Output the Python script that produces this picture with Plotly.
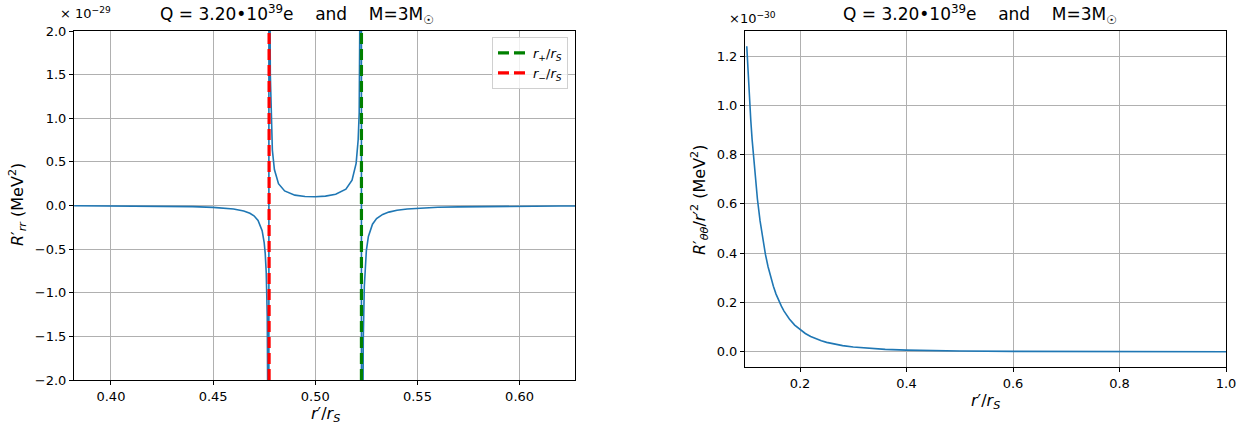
import plotly.graph_objects as go

# ---------------- data ----------------
# left panel: R'_rr in units of 1e-29 MeV^2 versus r'/r_S
r_minus = 0.4774
r_plus = 0.5226

r_left = [0.382, 0.39, 0.40, 0.41, 0.42, 0.43, 0.44, 0.45, 0.455, 0.46,
          0.465, 0.468, 0.47, 0.472, 0.474, 0.475, 0.4755, 0.476, 0.4765, 0.477,
          0.47725, 0.47735,
          0.4776, 0.478, 0.4785, 0.479, 0.480, 0.482, 0.485, 0.49, 0.495, 0.50,
          0.505, 0.51, 0.515, 0.518, 0.520, 0.521, 0.5215, 0.522, 0.5224,
          0.52255, 0.52265,
          0.523, 0.5235, 0.524, 0.525, 0.526, 0.528, 0.53, 0.533, 0.536, 0.54,
          0.545, 0.55, 0.56, 0.57, 0.58, 0.59, 0.60, 0.61, 0.62, 0.628]
R_rr = [-0.0022, -0.0027, -0.0035, -0.0046, -0.0062, -0.0087, -0.0129, -0.021, -0.028, -0.040,
        -0.063, -0.089, -0.118, -0.171, -0.288, -0.424, -0.548, -0.769, -1.27, -3.42,
        -20.0, 20.0,
        3.47, 1.50, 0.889, 0.636, 0.412, 0.250, 0.167, 0.119, 0.103, 0.100,
        0.107, 0.129, 0.188, 0.289, 0.483, 0.753, 1.056, 1.794, 4.15,
        20.0, -20.0,
        -4.11, -1.53, -0.932, -0.518, -0.355, -0.214, -0.150, -0.102, -0.0758, -0.0554,
        -0.0405, -0.0314, -0.0209, -0.0153, -0.0118, -0.0095, -0.0078, -0.0066, -0.0057, -0.0051]

# right panel: R'_thth / r'^2 in units of 1e-30 MeV^2 versus r'/r_S
r_right = [0.10, 0.1025, 0.105, 0.1075, 0.11, 0.115, 0.12, 0.125, 0.13, 0.135, 0.14,
           0.145, 0.15, 0.155, 0.16, 0.165, 0.17, 0.175, 0.18, 0.19, 0.20, 0.21,
           0.22, 0.23, 0.24, 0.25, 0.26, 0.28, 0.30, 0.32, 0.34, 0.36, 0.40,
           0.45, 0.50, 0.60, 0.70, 0.80, 0.90, 1.00]
R_thth = [1.24, 1.129, 1.030, 0.942, 0.863, 0.729, 0.620, 0.531, 0.458, 0.396, 0.345,
          0.302, 0.266, 0.234, 0.208, 0.185, 0.165, 0.148, 0.133, 0.108, 0.089, 0.074,
          0.062, 0.052, 0.0445, 0.038, 0.0328, 0.0248, 0.0191, 0.0149, 0.0119, 0.0095, 0.0064,
          0.0041, 0.0027, 0.0014, 0.0008, 0.0005, 0.0003, 0.0002]

left_xticks = [0.40, 0.45, 0.50, 0.55, 0.60]
left_yticks = [-2.0, -1.5, -1.0, -0.5, 0.0, 0.5, 1.0, 1.5, 2.0]
right_xticks = [0.2, 0.4, 0.6, 0.8, 1.0]
right_yticks = [0.0, 0.2, 0.4, 0.6, 0.8, 1.0, 1.2]

left_xrange = [0.8 * r_minus, 1.2 * r_plus]
left_yrange = [-2.0, 2.0]
right_xrange = [0.0967, 1.0]
right_yrange = [-0.062, 1.302]

title_text = "Q = 3.20•10<sup>39</sup>e    and    M=3M<sub>☉</sub>"

# ---------------- figure ----------------
W, H = 1252, 430
BLUE = "#1f77b4"
FONT = "DejaVu Sans"

fig = go.Figure()

fig.add_trace(go.Scatter(x=r_left, y=R_rr, mode="lines", line=dict(color=BLUE, width=1.6),
                         showlegend=False, xaxis="x", yaxis="y", hoverinfo="skip"))
fig.add_trace(go.Scatter(x=[r_plus, r_plus], y=left_yrange, mode="lines",
                         line=dict(color="green", width=3.2, dash="11px,5px"),
                         name="<i>r</i><sub>+</sub>/<i>r<sub>S</sub></i>", xaxis="x", yaxis="y"))
fig.add_trace(go.Scatter(x=[r_minus, r_minus], y=left_yrange, mode="lines",
                         line=dict(color="red", width=3.2, dash="11px,5px"),
                         name="<i>r</i><sub>−</sub>/<i>r<sub>S</sub></i>", xaxis="x", yaxis="y"))
fig.add_trace(go.Scatter(x=r_right, y=R_thth, mode="lines", line=dict(color=BLUE, width=1.6),
                         showlegend=False, xaxis="x2", yaxis="y2", hoverinfo="skip"))

def px_x(p):
    return p / W

def px_y(p):
    return 1 - p / H

axis_common = dict(showline=True, linecolor="black", linewidth=1, mirror=True,
                   showgrid=True, gridcolor="#b0b0b0", gridwidth=0.8,
                   ticks="outside", ticklen=4, tickwidth=1, tickcolor="black",
                   tickfont=dict(family=FONT, size=13, color="black"),
                   zeroline=False, automargin=False)

fig.update_layout(
    width=W, height=H,
    margin=dict(l=0, r=0, t=0, b=0),
    paper_bgcolor="white", plot_bgcolor="white",
    font=dict(family=FONT, color="black"),
    xaxis=dict(domain=[px_x(74), px_x(575)], range=left_xrange, tickvals=left_xticks,
               tickformat=".2f", anchor="y", **axis_common),
    yaxis=dict(domain=[px_y(380), px_y(31)], range=left_yrange, tickvals=left_yticks,
               tickformat=".1f", anchor="x", **axis_common),
    xaxis2=dict(domain=[px_x(745), px_x(1226)], range=right_xrange, tickvals=right_xticks,
                tickformat=".1f", anchor="y2", **axis_common),
    yaxis2=dict(domain=[px_y(367), px_y(31)], range=right_yrange, tickvals=right_yticks,
                tickformat=".1f", anchor="x2", **axis_common),
    legend=dict(x=px_x(568), y=px_y(37), xanchor="right", yanchor="top",
                bgcolor="rgba(255,255,255,0.8)", bordercolor="#d0d0d0", borderwidth=1,
                font=dict(family=FONT, size=13), tracegroupgap=0, itemwidth=30),
    showlegend=True,
)

ann = [
    dict(text=title_text, x=px_x(297), y=px_y(14), font=dict(size=17)),
    dict(text=title_text, x=px_x(980), y=px_y(14), font=dict(size=17)),
    dict(text="× 10<sup>−29</sup>", x=px_x(58), y=px_y(13), xanchor="left", font=dict(size=13)),
    dict(text="×10<sup>−30</sup>", x=px_x(727), y=px_y(18), xanchor="left", font=dict(size=13)),
    dict(text="<i>r</i>′/<i>r<sub>S</sub></i>", x=px_x(325), y=px_y(414), font=dict(size=16)),
    dict(text="<i>r</i>′/<i>r<sub>S</sub></i>", x=px_x(985), y=px_y(401), font=dict(size=16)),
    dict(text="<i>R</i>′<sub><i>rr</i></sub> (MeV<sup>2</sup>)", x=px_x(18), y=px_y(205),
         textangle=-90, font=dict(size=16)),
    dict(text="<i>R</i>′<sub><i>θθ</i></sub>/<i>r</i>′<sup>2</sup> (MeV<sup>2</sup>)",
         x=px_x(700), y=px_y(200), textangle=-90, font=dict(size=16)),
]
for a in ann:
    a.setdefault("xanchor", "center")
    fig.add_annotation(xref="paper", yref="paper", yanchor="middle", showarrow=False,
                       font_family=FONT, font_color="black", **{k: v for k, v in a.items() if k != "font"},
                       font_size=a["font"]["size"])

fig.write_html("out.html")
